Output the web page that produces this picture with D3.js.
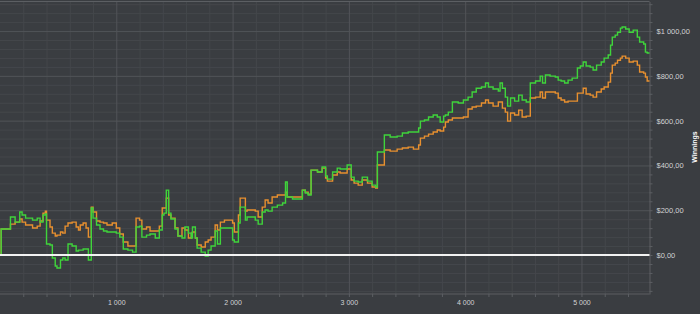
<!DOCTYPE html>
<html>
<head>
<meta charset="utf-8">
<script src="https://cdn.jsdelivr.net/npm/d3@7/dist/d3.min.js"></script>
<style>
  html, body { margin: 0; padding: 0; background: #3a3d41; overflow: hidden; }
  svg { display: block; font-family: 'Liberation Sans', Arial, sans-serif; }
</style>
</head>
<body>
<svg></svg>
<script>
// hand number at each step
const hands = [0, 10, 30, 90, 130, 170, 190, 220, 280, 320,
  345, 370, 390, 400, 430, 450, 475, 490, 520, 540,
  560, 585, 620, 655, 675, 690, 715, 740, 760, 785,
  800, 830, 860, 890, 920, 965, 1000, 1030, 1060, 1100,
  1140, 1170, 1200, 1220, 1260, 1290, 1335, 1370, 1395, 1410,
  1430, 1450, 1470, 1505, 1530, 1565, 1590, 1620, 1645, 1655,
  1680, 1695, 1730, 1765, 1790, 1815, 1850, 1870, 1895, 1930,
  2000, 2015, 2050, 2065, 2110, 2125, 2195, 2220, 2255, 2280,
  2305, 2340, 2385, 2430, 2455, 2470, 2515, 2600, 2625, 2650,
  2675, 2730, 2770, 2800, 2815, 2860, 2900, 2925, 2985, 3020,
  3045, 3080, 3115, 3160, 3200, 3230, 3245, 3305, 3355, 3415,
  3460, 3510, 3555, 3600, 3615, 3650, 3685, 3725, 3760, 3785,
  3815, 3830, 3855, 3890, 3940, 3985, 4025, 4060, 4095, 4140,
  4175, 4200, 4240, 4285, 4300, 4320, 4345, 4365, 4390, 4425,
  4460, 4490, 4525, 4560, 4605, 4645, 4665, 4690, 4730, 4775,
  4800, 4825, 4855, 4885, 4920, 4965, 4990, 5015, 5040, 5075,
  5100, 5130, 5170, 5195, 5230, 5250, 5265, 5290, 5310, 5335,
  5350, 5380, 5410, 5445, 5480, 5500, 5535, 5550, 5565, 5585]

// green series (winnings, $)
const green = [0, 116, 116, 170, 147, 192, 179, 165, 156, 165,
  147, 179, 183, 49, 45, -13, -49, -58, -22, -13,
  -22, 49, 40, 18, 22, 22, 27, 27, -22, 210,
  165, 134, 116, 107, 103, 103, 98, 80, 27, 22,
  13, 125, 129, 80, 89, 94, 76, 112, 179, 187,
  290, 187, 161, 116, 85, 76, 125, 98, 76, 125,
  76, 31, 13, -4, 22, 40, 107, 49, 121, 121,
  67, 58, 143, 214, 156, 170, 156, 138, 192, 201,
  196, 214, 223, 232, 326, 259, 250, 290, 277, 268,
  379, 371, 393, 353, 339, 371, 388, 384, 402, 348,
  330, 326, 348, 330, 312, 304, 460, 536, 527, 531,
  545, 549, 549, 567, 598, 603, 616, 625, 616, 594,
  620, 625, 638, 683, 679, 692, 705, 728, 745, 750,
  768, 750, 741, 732, 768, 745, 705, 665, 701, 687,
  714, 692, 683, 768, 777, 799, 768, 804, 799, 795,
  781, 777, 768, 781, 790, 835, 844, 862, 844, 839,
  826, 848, 862, 879, 893, 937, 973, 982, 995, 1013,
  1018, 1009, 995, 1004, 973, 951, 942, 906, 902, 902]

// orange series (winnings, $)
const orange = [0, 116, 116, 138, 147, 161, 147, 134, 121, 129,
  152, 187, 196, 156, 125, 98, 85, 89, 103, 98,
  129, 143, 147, 125, 112, 134, 143, 121, 80, 214,
  192, 152, 147, 143, 134, 143, 121, 94, 58, 40,
  40, 165, 156, 116, 125, 107, 107, 129, 210, 210,
  254, 179, 165, 121, 85, 121, 112, 76, 98, 103,
  76, 45, 36, 58, 67, 80, 134, 112, 147, 156,
  143, 103, 179, 254, 196, 201, 196, 170, 214, 246,
  232, 259, 268, 268, 281, 259, 259, 290, 281, 272,
  379, 371, 388, 344, 330, 357, 371, 366, 384, 335,
  321, 312, 335, 321, 304, 299, 402, 469, 464, 473,
  478, 482, 473, 491, 522, 531, 540, 549, 558, 554,
  571, 594, 603, 612, 612, 616, 652, 661, 665, 679,
  692, 679, 665, 683, 683, 656, 638, 598, 634, 625,
  647, 616, 620, 701, 705, 728, 701, 728, 728, 723,
  701, 692, 683, 687, 687, 723, 723, 745, 719, 714,
  705, 728, 741, 750, 772, 812, 848, 857, 870, 879,
  888, 879, 862, 866, 848, 817, 812, 795, 777, 777]

const xTicks = [1000, 2000, 3000, 4000, 5000]
const yTicks = [0, 200, 400, 600, 800, 1000]
const yTitle = 'Winnings'

window.onload = () => {
  const width = 700
  const height = 314
  const margin = { top: 1.5, right: 50.5, bottom: 20, left: 0 }
  const innerW = width - margin.left - margin.right
  const innerH = height - margin.top - margin.bottom

  const colors = {
    minor: '#44474b',
    major: '#515458',
    axis: '#5c5f63',
    label: '#d2d3d5',
    green: '#3fd43b',
    orange: '#e8902f'
  }

  const locale = d3.formatLocale({ decimal: ',', thousands: '\u00a0', grouping: [3], currency: ['$', ''] })
  const fmtMoney = locale.format('$,.2f')
  const fmtHand = locale.format(',')

  const svg = d3.select('svg')
    .attr('width', width)
    .attr('height', height)
    .attr('viewBox', [0, 0, width, height])

  const x = d3.scaleLinear().domain([0, 5585]).range([margin.left, margin.left + innerW])
  const y = d3.scaleLinear().domain([-174, 1132]).range([margin.top + innerH, margin.top])

  const minorX = d3.range(200, 5585, 200).filter(v => v % 1000 !== 0)
  const minorY = d3.range(-160, 1132, 40).filter(v => v % 200 !== 0)

  // minor grid
  svg.append('g')
    .attr('transform', 'translate(0,' + (margin.top + innerH) + ')')
    .call(d3.axisBottom(x).tickValues(minorX).tickSize(-innerH).tickFormat(''))
    .call(g => g.select('.domain').remove())
    .call(g => g.selectAll('.tick line').attr('stroke', colors.minor))
  svg.append('g')
    .attr('transform', 'translate(' + margin.left + ',0)')
    .call(d3.axisRight(y).tickValues(minorY).tickSize(innerW).tickFormat(''))
    .call(g => g.select('.domain').remove())
    .call(g => g.selectAll('.tick line').attr('stroke', colors.minor))

  // major grid
  svg.append('g')
    .attr('transform', 'translate(0,' + (margin.top + innerH) + ')')
    .call(d3.axisBottom(x).tickValues(xTicks).tickSize(-innerH).tickFormat(''))
    .call(g => g.select('.domain').remove())
    .call(g => g.selectAll('.tick line').attr('stroke', colors.major))
  svg.append('g')
    .attr('transform', 'translate(' + margin.left + ',0)')
    .call(d3.axisRight(y).tickValues(yTicks.filter(v => v !== 0)).tickSize(innerW).tickFormat(''))
    .call(g => g.select('.domain').remove())
    .call(g => g.selectAll('.tick line').attr('stroke', colors.major))

  // frame top / bottom
  svg.append('line')
    .attr('x1', margin.left).attr('x2', margin.left + innerW)
    .attr('y1', margin.top).attr('y2', margin.top)
    .attr('stroke', colors.axis)
  svg.append('line')
    .attr('x1', margin.left).attr('x2', margin.left + innerW)
    .attr('y1', margin.top + innerH).attr('y2', margin.top + innerH)
    .attr('stroke', colors.axis)

  // x axis
  svg.append('g')
    .attr('transform', 'translate(0,' + (margin.top + innerH) + ')')
    .call(d3.axisBottom(x).tickValues(minorX.concat(xTicks)).tickSize(3).tickPadding(3)
      .tickFormat(v => xTicks.includes(v) ? fmtHand(v) : ''))
    .call(g => g.select('.domain').remove())
    .call(g => g.selectAll('.tick line').attr('stroke', colors.axis))
    .call(g => g.selectAll('.tick text').attr('fill', colors.label).attr('font-size', 7).attr('font-family', null))

  // y axis on the right
  svg.append('g')
    .attr('transform', 'translate(' + (margin.left + innerW) + ',0)')
    .call(d3.axisRight(y).tickValues(minorY.concat(yTicks)).tickSize(3).tickSizeOuter(0).tickPadding(4)
      .tickFormat(v => yTicks.includes(v) ? fmtMoney(v) : ''))
    .call(g => g.select('.domain').attr('stroke', colors.axis))
    .call(g => g.selectAll('.tick line').attr('stroke', colors.axis))
    .call(g => g.selectAll('.tick text').attr('fill', colors.label).attr('font-size', 7.5).attr('font-family', null))

  svg.append('text')
    .text(yTitle)
    .attr('transform', 'translate(697,' + 147 + ') rotate(-90)')
    .attr('text-anchor', 'middle')
    .attr('fill', '#ffffff')
    .attr('font-weight', 'bold')
    .attr('font-size', 7)

  // series
  const line = series => d3.line()
    .x((d, i) => x(hands[i]))
    .y(d => y(d))
    .curve(d3.curveStepAfter)(series)

  svg.append('path')
    .attr('d', line(orange))
    .attr('fill', 'none')
    .attr('stroke', colors.orange)
    .attr('stroke-width', 1.4)

  svg.append('path')
    .attr('d', line(green))
    .attr('fill', 'none')
    .attr('stroke', colors.green)
    .attr('stroke-width', 1.4)

  // zero line
  svg.append('line')
    .attr('x1', margin.left).attr('x2', margin.left + innerW)
    .attr('y1', y(0)).attr('y2', y(0))
    .attr('stroke', '#f2f2f2')
    .attr('stroke-width', 2)
}
</script>
</body>
</html>
